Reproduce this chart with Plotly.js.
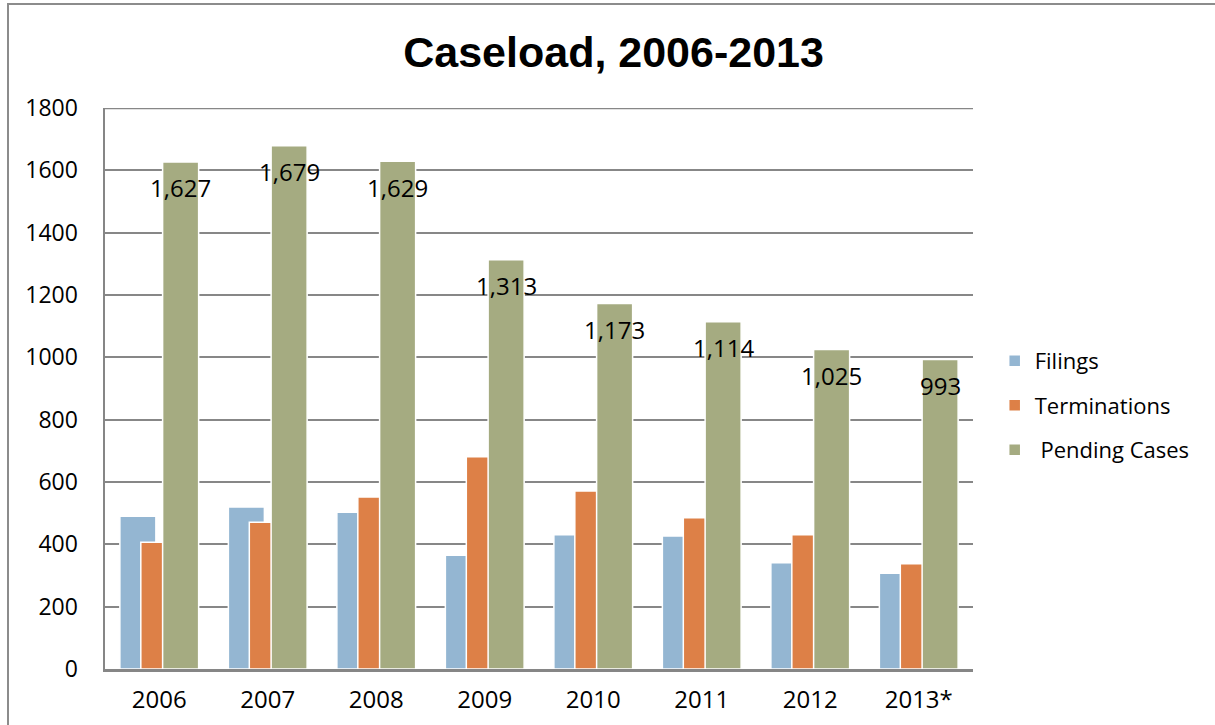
<!DOCTYPE html>
<html>
<head>
<meta charset="utf-8">
<script src="https://cdn.plot.ly/plotly-3.0.1.min.js"></script>
<style>
  html, body { margin: 0; padding: 0; background: #fff; }
  #frame { position: absolute; left: 7px; top: 3px; width: 1208px; height: 722px;
           border-top: 2px solid #8c8c8c; border-left: 2px solid #8c8c8c; box-sizing: border-box; }
  #chart { position: absolute; left: 0; top: 0; width: 1215px; height: 725px; }
</style>
</head>
<body>
<div id="frame"></div>
<div id="chart"></div>
<script>
const years = ["2006", "2007", "2008", "2009", "2010", "2011", "2012", "2013*"];
const filings = [490, 520, 503, 365, 431, 427, 341, 307];
const terminations = [407, 471, 552, 681, 571, 485, 431, 338];
const pending = [1627, 1679, 1629, 1313, 1173, 1114, 1025, 993];
const pendingLabels = ["1,627", "1,679", "1,629", "1,313", "1,173", "1,114", "1,025", "993"];
const seriesNames = ["Filings", "Terminations", " Pending Cases"];
const colors = ["#94B6D2", "#DD8047", "#A5AB81"];
const yTicks = [0, 200, 400, 600, 800, 1000, 1200, 1400, 1600, 1800];

const barWidth = 0.332;
const offsets = [-0.363, -0.170, 0.031];
const seriesData = [filings, terminations, pending];

const traces = seriesData.map((vals, i) => ({
  type: "bar",
  x: years,
  y: vals,
  name: seriesNames[i],
  legendgroup: "g" + i,
  width: barWidth,
  offset: offsets[i],
  marker: { color: colors[i], line: { color: "#ffffff", width: 1.5 } },
  hoverinfo: "x+y+name"
}));

const baseFont = "Open Sans, sans-serif";
const pendingCenter = offsets[2] + barWidth / 2;
const annotations = years.map((yr, i) => ({
  x: i + pendingCenter,
  y: pending[i],
  xref: "x", yref: "y",
  text: pendingLabels[i],
  showarrow: false,
  xanchor: "center", yanchor: "middle",
  yshift: -26,
  font: { family: baseFont, size: 24, color: "#000" }
}));

const layout = {
  width: 1215, height: 725,
  paper_bgcolor: "rgba(0,0,0,0)",
  plot_bgcolor: "#ffffff",
  margin: { l: 105, r: 242, t: 108, b: 56 },
  barmode: "overlay",
  title: {
    text: "<b>Caseload, 2006-2013</b>",
    font: { family: "Liberation Sans, Arial, sans-serif", size: 43, color: "#000" },
    xref: "container", x: 0.505, xanchor: "center",
    yref: "container", y: 0.928, yanchor: "middle"
  },
  xaxis: {
    type: "category",
    range: [-0.5, 7.5],
    showgrid: false,
    showline: true, linecolor: "#868686", linewidth: 2.5,
    ticks: "",
    ticklabelstandoff: 8,
    tickfont: { family: baseFont, size: 24, color: "#000" },
    zeroline: false
  },
  yaxis: {
    range: [0, 1800],
    tickvals: yTicks,
    ticktext: yTicks.map(String),
    showgrid: true, gridcolor: "#878787", gridwidth: 2,
    showline: true, linecolor: "#868686", linewidth: 2.5,
    ticks: "",
    ticklabelstandoff: 20,
    tickfont: { family: baseFont, size: 23, color: "#000" },
    zeroline: false
  },
  shapes: [{
    type: "line", xref: "paper", yref: "y",
    x0: 0, x1: 1, y0: yTicks[yTicks.length - 1], y1: yTicks[yTicks.length - 1],
    line: { color: "#878787", width: 2.5 }
  }],
  legend: {
    x: 1.025, xanchor: "left",
    y: 0.47, yanchor: "middle",
    font: { family: baseFont, size: 22, color: "#000" },
    tracegroupgap: 13,
    itemwidth: 30,
    bgcolor: "rgba(0,0,0,0)"
  },
  annotations: annotations,
  showlegend: true
};

Plotly.newPlot("chart", traces, layout, { displayModeBar: false, staticPlot: true });
</script>
</body>
</html>
